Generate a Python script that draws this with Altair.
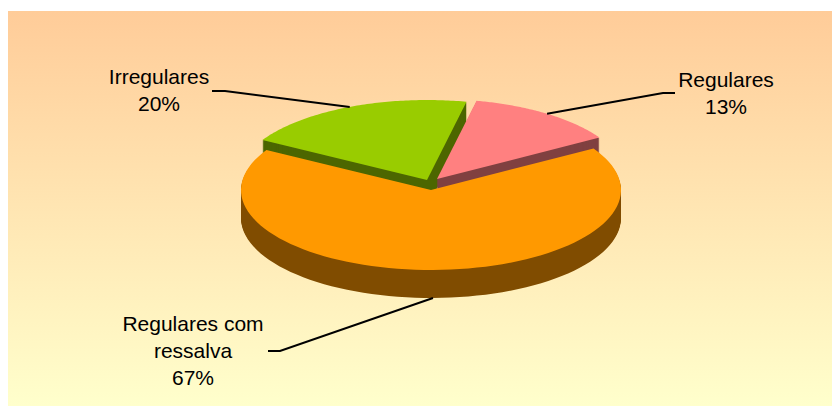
import altair as alt

# ---- data ----
categories = ["Regulares", "Regulares com ressalva", "Irregulares"]
values = [13, 67, 20]
label_text = ["Regulares", "Regulares com\nressalva", "Irregulares"]

# ---- styles ----
top_colors = ["#FF8080", "#FF9900", "#99CC00"]
side_colors = ["#804040", "#804C00", "#4C6600"]

# ---- layout (page pixel coordinates) ----
W, H = 824, 398
X0, Y0 = 8, 8
CX, CY, RX, RY, DEPTH = 431, 190, 190, 80, 28
ROT = 12
N = 90
explode_dx = [6, 0, -4]
explode_dy = [-11, 0, -10]
label_x = [726, 193, 159]
label_y = [87, 331, 84]
elbow_x0 = [675, 268, 212]
elbow_x1 = [663, 280, 225]
elbow_y = [93, 351, 91]

rows = []
for i, c in enumerate(categories):
    rows.append(dict(
        cat=c, value=values[i], order=i, label=label_text[i],
        dx=explode_dx[i], dy=explode_dy[i],
        lx=label_x[i], ly=label_y[i],
        ex0=elbow_x0[i], ex1=elbow_x1[i], ey=elbow_y[i],
        lay=list(range(DEPTH + 1)), k=list(range(-1, N + 1)), p=[0, 1, 2],
    ))

xs = alt.Scale(domain=[X0, X0 + W], nice=False, zero=False)
ys = alt.Scale(domain=[Y0, Y0 + H], nice=False, zero=False, reverse=True)

base = (
    alt.Chart(alt.Data(values=rows))
    .transform_joinaggregate(total="sum(value)")
    .transform_window(cum="sum(value)", sort=[{"field": "order"}], frame=[None, 0])
    .transform_calculate(
        a0=f"2*PI*({ROT}/360 + (datum.cum - datum.value)/datum.total)",
        a1=f"2*PI*({ROT}/360 + datum.cum/datum.total)",
    )
)

pie = (
    base.transform_flatten(["lay"])
    .transform_flatten(["k"])
    .transform_calculate(
        ang=f"datum.a0 + (datum.a1 - datum.a0) * max(datum.k, 0) / {N}",
        r="datum.k < 0 ? 0 : 1",
    )
    .transform_calculate(
        px=f"{CX} + datum.dx + datum.r * {RX} * sin(datum.ang)",
        py=f"{CY} + datum.dy - datum.r * {RY} * cos(datum.ang) + datum.lay",
    )
)

bg = alt.Chart(alt.Data(values=[{"a": 1}])).mark_rect(
    fill=alt.Gradient(
        gradient="linear",
        stops=[alt.GradientStop(color="#FFCC99", offset=0),
               alt.GradientStop(color="#FFFFCC", offset=1)],
        x1=0, x2=0, y1=0, y2=1,
    )
).encode(x=alt.value(0), x2=alt.value(W), y=alt.value(3), y2=alt.value(H))

layers = [bg]
for i in [2, 0, 1]:
    side = pie.transform_filter(f"datum.order == {i} && datum.lay > 0").mark_line(
        filled=True, color=side_colors[i]
    ).encode(
        x=alt.X("px:Q", scale=xs, axis=None),
        y=alt.Y("py:Q", scale=ys, axis=None),
        detail="lay:N",
        order="k:Q",
    )
    top = pie.transform_filter(f"datum.order == {i} && datum.lay == 0").mark_line(
        filled=True, color=top_colors[i]
    ).encode(
        x=alt.X("px:Q", scale=xs, axis=None),
        y=alt.Y("py:Q", scale=ys, axis=None),
        order="k:Q",
    )
    layers += [side, top]

leaders = (
    base.transform_flatten(["p"])
    .transform_calculate(m="(datum.a0 + datum.a1) / 2")
    .transform_calculate(
        qx=f"datum.p == 0 ? datum.ex0 : datum.p == 1 ? datum.ex1 : {CX} + datum.dx + {RX} * sin(datum.m)",
        qy=f"datum.p < 2 ? datum.ey : {CY} + datum.dy - {RY} * cos(datum.m) + (cos(datum.m) < 0 ? {DEPTH} : 0)",
    )
    .mark_line(color="black", strokeWidth=2)
    .encode(
        x=alt.X("qx:Q", scale=xs, axis=None),
        y=alt.Y("qy:Q", scale=ys, axis=None),
        detail="cat:N",
        order="p:Q",
    )
)

labels = (
    base.transform_calculate(
        txt="datum.label + '\\n' + format(datum.value / datum.total, '.0%')"
    )
    .mark_text(
        font="Liberation Sans", fontSize=21, lineHeight=27, lineBreak="\n",
        align="center", baseline="alphabetic", color="black",
    )
    .encode(
        x=alt.X("lx:Q", scale=xs, axis=None),
        y=alt.Y("ly:Q", scale=ys, axis=None),
        text="txt:N",
    )
)

layers += [leaders, labels]

chart = (
    alt.layer(*layers)
    .properties(width=W, height=H, padding=0, background="white")
    .configure_view(stroke=None)
)

chart.save("out.html", embed_options={"renderer": "svg", "actions": False})
